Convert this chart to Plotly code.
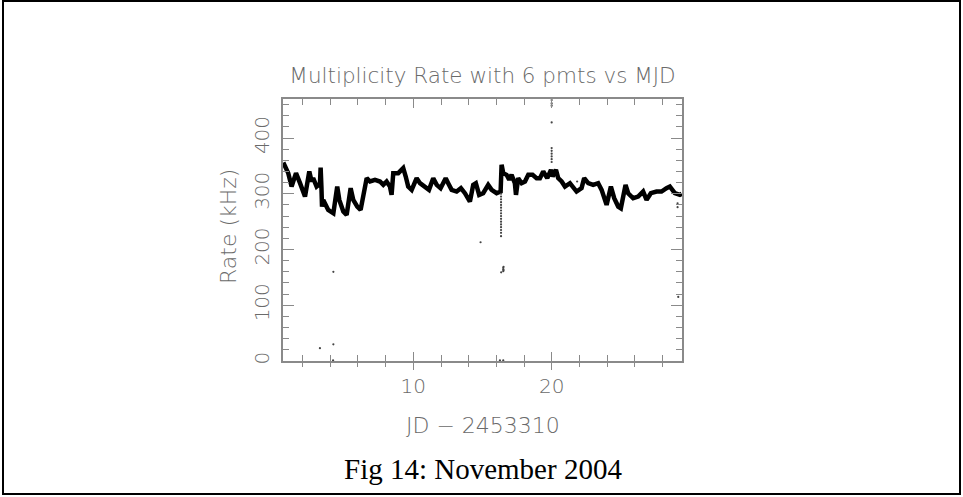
import plotly.graph_objects as go

# Multiplicity rate (kHz) with 6 PMTs, November 2004, day offset from JD 2453310
day = [
    0.60, 0.96, 1.20, 1.52, 1.81, 2.17, 2.48, 2.65, 2.76, 3.01,
    3.25, 3.30, 3.36, 3.40, 3.49, 3.85, 4.22, 4.50, 4.65, 4.94,
    5.18, 5.47, 5.66, 5.95, 6.19, 6.43, 6.63, 6.87, 7.23, 7.59,
    7.83, 8.07, 8.31, 8.43, 8.55, 8.91, 9.27, 9.45, 9.63, 9.88,
    10.24, 10.48, 10.84, 11.13, 11.44, 11.69, 11.97, 12.34, 12.52, 12.77,
    13.13, 13.44, 13.73, 14.09, 14.33, 14.52, 14.76, 15.05, 15.41, 15.66,
    16.02, 16.31, 16.38, 16.50, 16.74, 16.93, 17.10, 17.34, 17.42, 17.58,
    17.83, 18.07, 18.31, 18.62, 18.91, 19.15, 19.39, 19.68, 19.95, 20.07,
    20.31, 20.47, 20.72, 20.96, 21.32, 21.56, 21.80, 22.16, 22.35, 22.64,
    23.00, 23.36, 23.61, 23.97, 24.28, 24.52, 24.81, 25.00, 25.34, 25.53,
    25.89, 26.25, 26.61, 26.86, 27.17, 27.58, 27.94, 28.30, 28.54, 28.90,
    29.26, 29.40,
]
rate = [
    356, 337, 313, 337, 319, 295, 340, 322, 328, 313,
    318, 347, 310, 277, 289, 271, 265, 313, 289, 268,
    262, 310, 289, 277, 271, 307, 328, 322, 325, 322,
    316, 322, 313, 298, 337, 337, 346, 331, 313, 307,
    328, 319, 313, 307, 328, 316, 310, 328, 319, 307,
    304, 310, 301, 286, 316, 319, 298, 301, 316, 307,
    301, 304, 352, 337, 334, 325, 334, 319, 298, 328,
    319, 322, 334, 334, 328, 328, 340, 328, 343, 331,
    343, 328, 322, 313, 319, 310, 304, 310, 328, 319,
    316, 319, 307, 280, 313, 292, 277, 274, 316, 301,
    292, 295, 304, 289, 301, 304, 304, 310, 313, 301,
    298, 300,
]

# Isolated readings away from the main band
odd_day = [
    3.25, 4.22, 4.22, 4.20, 14.86, 16.26, 16.50,
    16.34, 16.34, 16.34, 16.34, 16.34, 16.34, 16.34, 16.34, 16.34,
    16.34, 16.34, 16.34, 16.34, 16.34, 16.34, 16.34,
    16.35, 16.50, 16.50, 16.50, 16.52, 16.52,
    20.00, 20.00, 20.00, 20.00, 20.00, 20.00, 20.00, 20.00, 20.00, 20.00,
    21.84, 29.10, 29.10, 29.15,
]
odd_rate = [
    23, 30, 160, 1, 213, 1, 1,
    300, 295, 290, 285, 280, 275, 270, 265, 260,
    255, 250, 245, 240, 235, 230, 224,
    159, 161, 164, 167, 163, 169,
    468, 462, 458, 428, 382, 377, 372, 367, 362, 357,
    322, 283, 276, 115,
]

y_ticks = [0, 100, 200, 300, 400]
x_ticks = [10, 20]
x_range = [0.58, 29.42]
y_range = [0, 470]

grey_text = "#6a6a6a"
grey_axis = "#8a8a8a"
tick_font = dict(family="DejaVu Sans", size=20, color=grey_text, weight=200)
label_font = dict(family="DejaVu Sans", size=22, color=grey_text, weight=200)

fig = go.Figure()
fig.add_trace(go.Scatter(
    x=day, y=rate, mode="lines",
    line=dict(color="black", width=4.5),
    hoverinfo="skip", showlegend=False,
))
fig.add_trace(go.Scatter(
    x=odd_day, y=odd_rate, mode="markers",
    marker=dict(color="#444444", size=2.2),
    hoverinfo="skip", showlegend=False,
))
# invisible carrier for the outward tick marks on the bottom edge
fig.add_trace(go.Scatter(
    x=[15], y=[200], xaxis="x2", mode="markers",
    marker=dict(opacity=0), hoverinfo="skip", showlegend=False,
))

fig.update_layout(
    width=963, height=497,
    margin=dict(l=283, r=281, t=99, b=136),
    paper_bgcolor="white", plot_bgcolor="white",
    title=dict(
        text="Multiplicity Rate with 6 pmts vs MJD",
        x=0.5, xref="paper", xanchor="center",
        y=1 - 75 / 497, yref="container", yanchor="middle",
        font=dict(family="DejaVu Sans", size=21.5, color=grey_text, weight=200),
    ),
    xaxis=dict(
        range=x_range, tickvals=x_ticks, ticktext=[str(v) for v in x_ticks],
        ticks="inside", ticklen=9, tickwidth=1.2, tickcolor=grey_axis,
        minor=dict(dtick=2, tick0=0, ticks="inside", ticklen=6,
                   tickwidth=1.2, tickcolor=grey_axis),
        showline=True, linecolor=grey_axis, linewidth=1.5, mirror="ticks",
        showgrid=False, zeroline=False,
        tickfont=tick_font, ticklabelstandoff=6,
    ),
    xaxis2=dict(
        range=x_range, overlaying="x", anchor="y", side="bottom",
        tickvals=x_ticks, ticks="outside", ticklen=8, tickwidth=1.2,
        tickcolor=grey_axis,
        minor=dict(dtick=2, tick0=0, ticks="outside", ticklen=5,
                   tickwidth=1.2, tickcolor=grey_axis),
        showticklabels=False, showline=False, showgrid=False, zeroline=False,
    ),
    yaxis=dict(
        range=y_range, tickvals=y_ticks, ticktext=[str(v) for v in y_ticks],
        ticks="inside", ticklen=11, tickwidth=1.2, tickcolor=grey_axis,
        minor=dict(dtick=20, tick0=0, ticks="inside", ticklen=6,
                   tickwidth=1.2, tickcolor=grey_axis),
        showline=True, linecolor=grey_axis, linewidth=1.5, mirror="ticks",
        showgrid=False, zeroline=False,
        tickangle=-90, tickfont=tick_font, ticklabelstandoff=4,
    ),
    annotations=[
        dict(text="JD \u2212 2453310", xref="paper", yref="paper",
             x=0.5, y=(361 - 425) / 262, xanchor="center", yanchor="middle",
             showarrow=False, font=label_font),
        dict(text="Rate (kHz)", xref="paper", yref="paper",
             x=(228 - 283) / 399, y=(361 - 227) / 262,
             xanchor="center", yanchor="middle",
             textangle=-90, showarrow=False, font=label_font),
        dict(text="Fig 14: November 2004", xref="paper", yref="paper",
             x=0.5, y=(361 - 469) / 262, xanchor="center", yanchor="middle",
             showarrow=False,
             font=dict(family="Liberation Serif", size=29, color="black")),
    ],
    shapes=[
        dict(type="rect", xref="paper", yref="paper",
             x0=(3 - 283) / 399, x1=(960 - 283) / 399,
             y0=(361 - 494) / 262, y1=(361 - 1) / 262,
             line=dict(color="black", width=2), fillcolor="rgba(0,0,0,0)",
             layer="below"),
    ],
)

fig.write_html("out.html")
